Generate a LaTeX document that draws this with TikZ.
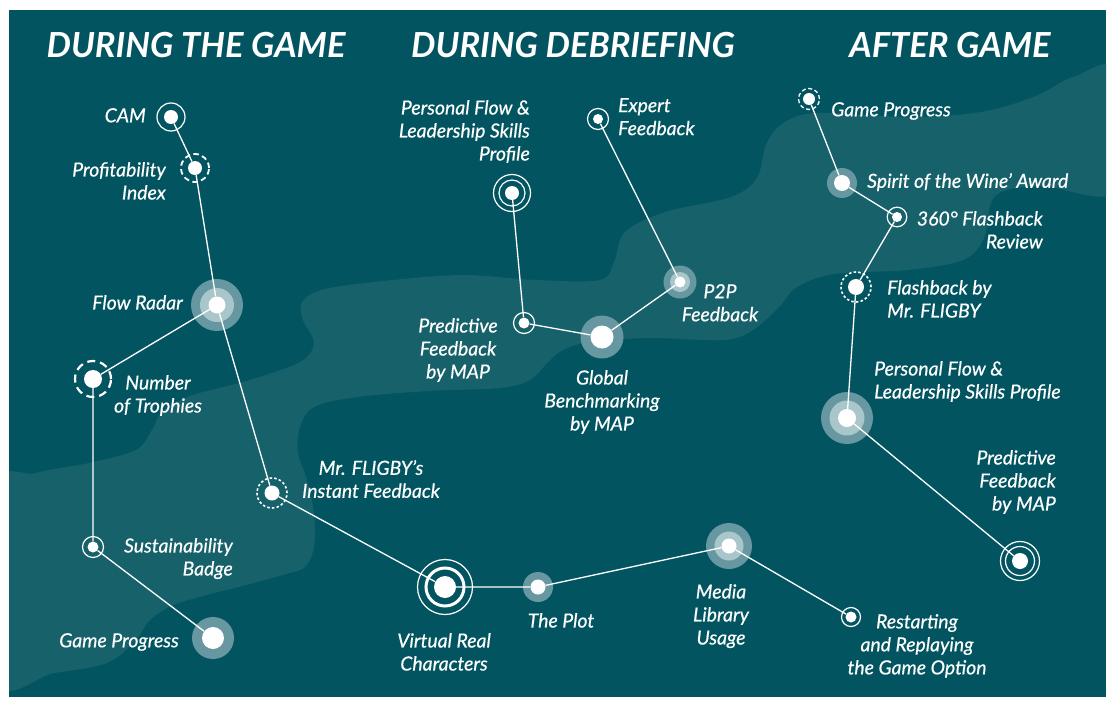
\documentclass[tikz,border=0pt]{standalone}
\usepackage{fontspec}
\setmainfont{Lato}
\newfontfamily\taglato{Lato}[FakeBold=0.5]
\usepackage{tikz}
\definecolor{sea}{HTML}{025560}
\definecolor{shoal}{HTML}{17616B}
\definecolor{glowout}{HTML}{6797A1}
\definecolor{glowin}{HTML}{A9C6CB}
\newcommand{\stagefont}{\fontsize{34.5}{40}\selectfont\bfseries\itshape}
\newcommand{\tagfont}{\fontsize{19.4}{23}\selectfont\taglato\itshape}
\pgfdeclarelayer{sea}
\pgfdeclarelayer{glow}
\pgfsetlayers{sea,glow,main}

\begin{document}
\begin{tikzpicture}[
  x=1pt, y=-1pt,
  dot/.style={circle, fill=white, inner sep=0pt, minimum size=#1},
  link/.style={draw=white, line width=1.3pt},
  lbl/.style={text=white, font=\tagfont, inner sep=0pt, align=#1},
  stage/.style={text=white, font=\stagefont, inner sep=0pt, anchor=base},
  ring/.style={draw=white, line width=1.2pt},
  dashring/.style={draw=white, line width=1.8pt, dash pattern=on 5.5pt off 3.5pt},
  dotring/.style={draw=white, line width=1.6pt, dash pattern=on 2.5pt off 2.2pt},
]
  % --- sea and shoal ------------------------------------------------
  \begin{pgfonlayer}{sea}
    \fill[white] (0,0) rectangle (1116,709);
    \fill[sea] (9,10) rectangle (1106,697);
    \begin{scope}
      \clip (9,10) rectangle (1106,697);
      \fill[shoal] plot[smooth cycle, tension=0.55] coordinates {
        (-5,490) (36,473) (89,463) (136,450) (152,430) (162,412) (190,396)
        (250,380) (300,362) (314,343) (303,320) (302,302) (325,289) (393,280)
        (464,275) (536,280) (600,280) (614,262) (625,232) (665,212) (731,197)
        (757,178) (766,145) (782,124) (816,113) (908,117) (981,112) (1036,96)
        (1073,77) (1120,70) (1120,190) (1040,186) (995,196) (984,238) (963,260)
        (908,270) (834,274) (797,287) (779,307) (753,330) (724,340) (650,338)
        (590,342) (563,350) (548,362) (530,380) (500,388) (429,391) (357,397)
        (314,407) (300,427) (298,453) (307,480) (314,513) (314,547) (305,567)
        (286,574) (250,584) (179,603) (150,620) (136,640) (107,663) (54,673)
        (-5,680)};
    \end{scope}
  \end{pgfonlayer}

  % --- stage titles -------------------------------------------------
  \node[stage] (tgame) at (196,58) {DURING THE GAME};
  \node[stage] (tdebrief) at (573,58) {DURING DEBRIEFING};
  \node[stage] (tafter) at (950,58) {AFTER GAME};

  % --- during the game ----------------------------------------------
  \node[dot=14pt] (cam) at (171,117) {};
  \node[dot=14pt] (profit) at (195,168) {};
  \node[dot=17pt] (radar) at (217,305) {};
  \node[dot=18pt] (trophy) at (93,379) {};
  \node[dot=15pt] (instant) at (272,493) {};
  \node[dot=11pt] (badge) at (93,547) {};
  \node[dot=22pt] (progress) at (213,638) {};
  \node[dot=22pt] (chars) at (445,587) {};
  \node[dot=15pt] (plot) at (538,587) {};
  \node[dot=15pt] (media) at (729,546) {};
  \node[dot=11pt] (replay) at (851,617) {};

  % --- during debriefing --------------------------------------------
  \node[dot=14pt] (dprofile) at (512,193) {};
  \node[dot=10pt] (expert) at (598,119) {};
  \node[dot=11pt] (ptp) at (680,282) {};
  \node[dot=11pt] (dpredict) at (524,323) {};
  \node[dot=23pt] (bench) at (602,337) {};

  % --- after game ---------------------------------------------------
  \node[dot=12pt] (aprogress) at (809,99) {};
  \node[dot=16pt] (spirit) at (842,183) {};
  \node[dot=10pt] (review) at (897,217) {};
  \node[dot=16pt] (flash) at (856,287) {};
  \node[dot=18pt] (aprofile) at (847,418) {};
  \node[dot=16pt] (apredict) at (1020,561) {};

  % --- halos and rings ----------------------------------------------
  \begin{pgfonlayer}{glow}
    \foreach \n/\r in {radar/26, progress/21, plot/15, media/23, ptp/16.5,
                       bench/21.5, spirit/15, aprofile/26}
      \fill[glowout] (\n) circle[radius=\r pt];
    \foreach \n/\r in {radar/17, media/14.5, ptp/10, aprofile/17.5}
      \fill[glowin] (\n) circle[radius=\r pt];
    \foreach \n/\r in {cam/14, badge/10.5, replay/9.5, expert/10.5, dpredict/10.5,
                       review/9.8, dprofile/18.5, dprofile/13, apredict/19.5,
                       apredict/14.5, chars/27.5}
      \draw[ring] (\n) circle[radius=\r pt];
    \draw[ring, line width=3pt] (chars) circle[radius=19pt];
    \draw[dashring] (profit) circle[radius=14pt];
    \draw[dashring, line width=2.2pt, dash pattern=on 8pt off 5pt] (trophy) circle[radius=18pt];
    \draw[dashring, line width=1.3pt, dash pattern=on 4pt off 2.6pt] (aprogress) circle[radius=10.5pt];
    \draw[dotring] (instant) circle[radius=15pt];
    \draw[dotring] (flash) circle[radius=15pt];
  \end{pgfonlayer}

  % --- connectors ---------------------------------------------------
  \draw[link] (cam) -- (profit) -- (radar) -- (trophy) -- (badge) -- (progress);
  \draw[link] (radar) -- (instant) -- (chars) -- (plot) -- (media) -- (replay);
  \draw[link] (dprofile) -- (dpredict) -- (bench) -- (ptp) -- (expert);
  \draw[link] (aprogress) -- (spirit) -- (review) -- (flash) -- (aprofile) -- (apredict);

  % --- labels -------------------------------------------------------
  \node[lbl=right, anchor=north east] (lcam) at (146,108) {CAM};
  \node[lbl=right, anchor=north east] (lprofit) at (166,162) {Profitability\\Index};
  \node[lbl=right, anchor=north east] (lradar) at (183,295) {Flow Radar};
  \node[lbl=center, anchor=north] (ltrophy) at (158,375) {Number\\of Trophies};
  \node[lbl=center, anchor=north] (linstant) at (371,460) {Mr. FLIGBY’s\\Instant Feedback};
  \node[lbl=right, anchor=north east] (lbadge) at (233,538) {Sustainability\\Badge};
  \node[lbl=right, anchor=north east] (lprogress) at (179,633) {Game Progress};
  \node[lbl=center, anchor=north] (lchars) at (444,633) {Virtual Real\\Characters};
  \node[lbl=center, anchor=north] (lplot) at (561,613) {The Plot};
  \node[lbl=center, anchor=north] (lmedia) at (721,584) {Media\\Library\\Usage};
  \node[lbl=center, anchor=north] (lreplay) at (917,614) {Restarting\\and Replaying\\the Game Option};

  \node[lbl=right, anchor=north east] (ldprofile) at (530,100) {Personal Flow \&\\Leadership Skills\\Profile};
  \node[lbl=left, anchor=north west] (lexpert) at (618,98) {Expert\\Feedback};
  \node[lbl=center, anchor=north] (ldpredict) at (458,318) {Predictive\\Feedback\\by MAP};
  \node[lbl=center, anchor=north] (lbench) at (602,370) {Global\\Benchmarking\\by MAP};
  \node[lbl=center, anchor=north] (lptp) at (720,284) {P2P\\Feedback};

  \node[lbl=left, anchor=north west] (laprogress) at (831,102) {Game Progress};
  \node[lbl=left, anchor=north west] (lspirit) at (867,173) {Spirit of the Wine’ Award};
  \node[lbl=right, anchor=north east] (lreview) at (1043,211) {360° Flashback\\Review};
  \node[lbl=left, anchor=north west] (lflash) at (887,280) {Flashback by\\Mr. FLIGBY};
  \node[lbl=left, anchor=north west] (laprofile) at (874,361) {Personal Flow \&\\Leadership Skills Profile};
  \node[lbl=right, anchor=north east] (lapredict) at (1056,450) {Predictive\\Feedback\\by MAP};
\end{tikzpicture}
\end{document}
